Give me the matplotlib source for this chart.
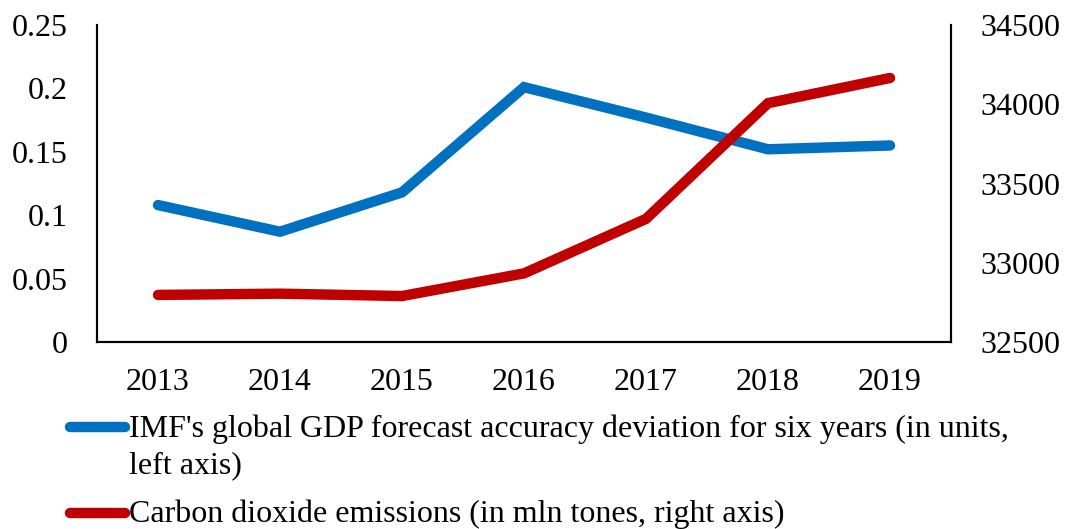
import matplotlib.pyplot as plt
from matplotlib.lines import Line2D

years = ["2013", "2014", "2015", "2016", "2017", "2018", "2019"]
imf_deviation = [0.108, 0.087, 0.118, 0.201, 0.177, 0.152, 0.155]
co2_emissions = [32797, 32805, 32790, 32933, 33277, 34007, 34166]

imf_label = ["IMF's global GDP forecast accuracy deviation for six years (in units,",
             "left axis)"]
co2_label = "Carbon dioxide emissions (in mln tones, right axis)"

blue = "#0070C0"
red = "#C00000"

plt.rcParams['font.family'] = ['Liberation Serif', 'DejaVu Serif']
plt.rcParams['font.size'] = 23

fig = plt.figure(figsize=(10.65, 5.29), dpi=100)
ax = fig.add_axes([0.0911, 0.3535, 0.8019, 0.5992])
ax2 = ax.twinx()

x = list(range(len(years)))
ax.plot(x, imf_deviation, color=blue, lw=7.5, solid_capstyle='round', solid_joinstyle='miter', zorder=3)
ax2.plot(x, co2_emissions, color=red, lw=7.5, solid_capstyle='round', solid_joinstyle='miter', zorder=2)

ax.set_xlim(-0.5, len(years) - 0.5)
ax.set_xticks(x)
ax.set_xticklabels(years)
ax.set_ylim(0, 0.25)
ax.set_yticks([0, 0.05, 0.1, 0.15, 0.2, 0.25])
ax.set_yticklabels(["0", "0.05", "0.1", "0.15", "0.2", "0.25"])
ax2.set_ylim(32500, 34500)
ax2.set_yticks([32500, 33000, 33500, 34000, 34500])

for a in (ax, ax2):
    a.spines['top'].set_visible(False)
    a.tick_params(length=0)
    for s in a.spines.values():
        s.set_linewidth(1.5)
ax.tick_params(axis='y', pad=21)
ax.tick_params(axis='x', pad=19)
ax2.tick_params(axis='y', pad=21)

# legend below the plot, handle aligned with the first text line
def legend_handle(y, color):
    fig.add_artist(Line2D([0.066, 0.117], [y, y], transform=fig.transFigure,
                          color=color, lw=7.5, solid_capstyle='round'))

legend_handle(1 - 427 / 529, blue)
fig.text(0.121, 1 - 437 / 529, imf_label[0], va='baseline', ha='left')
fig.text(0.121, 1 - 473 / 529, imf_label[1], va='baseline', ha='left')
legend_handle(1 - 513 / 529, red)
fig.text(0.121, 1 - 522 / 529, co2_label, va='baseline', ha='left')

fig.savefig("out.png", dpi=100)
